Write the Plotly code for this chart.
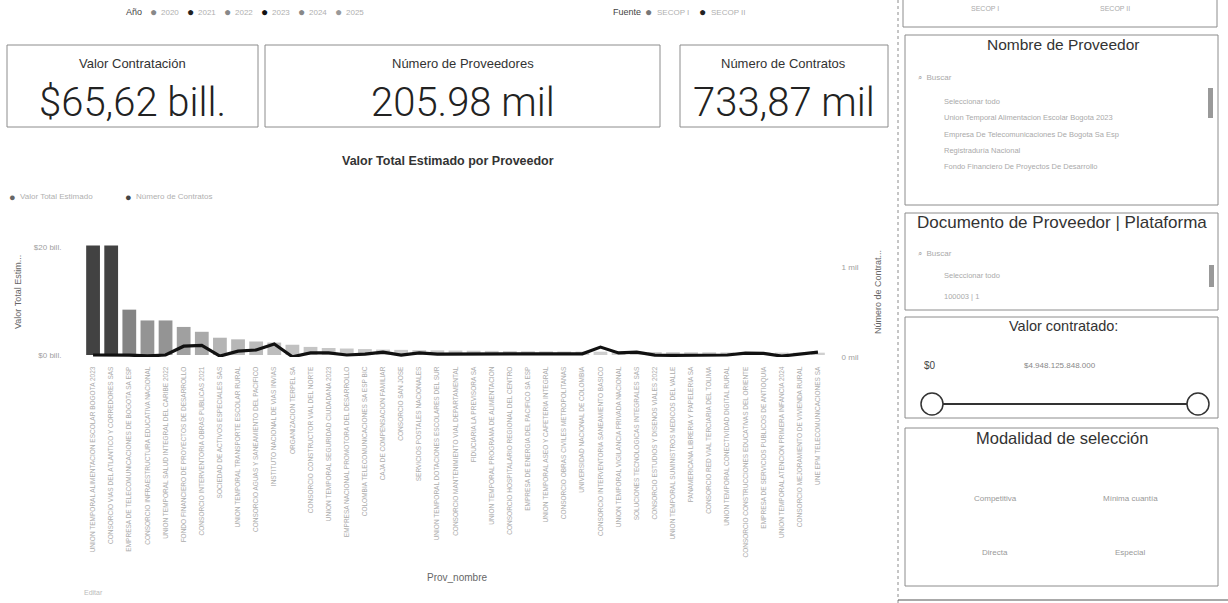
import plotly.graph_objects as go

W, H = 1228, 603

# ---------------- data ----------------
proveedores = [
    "UNION TEMPORAL ALIMENTACION ESCOLAR BOGOTA 2023",
    "CONSORCIO VIAS DEL ATLANTICO Y CORREDORES SAS",
    "EMPRESA DE TELECOMUNICACIONES DE BOGOTA SA ESP",
    "CONSORCIO INFRAESTRUCTURA EDUCATIVA NACIONAL",
    "UNION TEMPORAL SALUD INTEGRAL DEL CARIBE 2022",
    "FONDO FINANCIERO DE PROYECTOS DE DESARROLLO",
    "CONSORCIO INTERVENTORIA OBRAS PUBLICAS 2021",
    "SOCIEDAD DE ACTIVOS ESPECIALES SAS",
    "UNION TEMPORAL TRANSPORTE ESCOLAR RURAL",
    "CONSORCIO AGUAS Y SANEAMIENTO DEL PACIFICO",
    "INSTITUTO NACIONAL DE VIAS INVIAS",
    "ORGANIZACION TERPEL SA",
    "CONSORCIO CONSTRUCTOR VIAL DEL NORTE",
    "UNION TEMPORAL SEGURIDAD CIUDADANA 2023",
    "EMPRESA NACIONAL PROMOTORA DEL DESARROLLO",
    "COLOMBIA TELECOMUNICACIONES SA ESP BIC",
    "CAJA DE COMPENSACION FAMILIAR",
    "CONSORCIO SAN JOSE",
    "SERVICIOS POSTALES NACIONALES",
    "UNION TEMPORAL DOTACIONES ESCOLARES DEL SUR",
    "CONSORCIO MANTENIMIENTO VIAL DEPARTAMENTAL",
    "FIDUCIARIA LA PREVISORA SA",
    "UNION TEMPORAL PROGRAMA DE ALIMENTACION",
    "CONSORCIO HOSPITALARIO REGIONAL DEL CENTRO",
    "EMPRESA DE ENERGIA DEL PACIFICO SA ESP",
    "UNION TEMPORAL ASEO Y CAFETERIA INTEGRAL",
    "CONSORCIO OBRAS CIVILES METROPOLITANAS",
    "UNIVERSIDAD NACIONAL DE COLOMBIA",
    "CONSORCIO INTERVENTORIA SANEAMIENTO BASICO",
    "UNION TEMPORAL VIGILANCIA PRIVADA NACIONAL",
    "SOLUCIONES TECNOLOGICAS INTEGRALES SAS",
    "CONSORCIO ESTUDIOS Y DISENOS VIALES 2022",
    "UNION TEMPORAL SUMINISTROS MEDICOS DEL VALLE",
    "PANAMERICANA LIBRERIA Y PAPELERIA SA",
    "CONSORCIO RED VIAL TERCIARIA DEL TOLIMA",
    "UNION TEMPORAL CONECTIVIDAD DIGITAL RURAL",
    "CONSORCIO CONSTRUCCIONES EDUCATIVAS DEL ORIENTE",
    "EMPRESA DE SERVICIOS PUBLICOS DE ANTIOQUIA",
    "UNION TEMPORAL ATENCION PRIMERA INFANCIA 2024",
    "CONSORCIO MEJORAMIENTO DE VIVIENDA RURAL",
    "UNE EPM TELECOMUNICACIONES SA",
]

valor_total_bill = [
    20.3, 20.3, 8.4, 6.4, 6.4, 5.2, 4.3, 3.2, 2.9, 2.5, 2.3, 1.9, 1.5, 1.3,
    1.2, 1.1, 1.0, 0.95, 0.9, 0.86, 0.82, 0.79, 0.76, 0.73, 0.7, 0.68, 0.66,
    0.63, 0.61, 0.59, 0.57, 0.55, 0.53, 0.51, 0.5, 0.48, 0.47, 0.46, 0.45,
    0.44, 0.43,
]

numero_contratos = [
    22, 22, 20, 12, 22, 120, 130, 10, 65, 78, 145, 3, 45, 45, 22, 33, 55, 22,
    45, 33, 33, 33, 30, 30, 28, 30, 33, 35, 110, 45, 55, 20, 18, 20, 20, 22,
    42, 40, 10, 33, 55,
]

anios = ["2020", "2021", "2022", "2023", "2024", "2025"]
fuentes = ["SECOP I", "SECOP II"]
kpi_titulos = ["Valor Contratación", "Número de Proveedores", "Número de Contratos"]
kpi_valores = ["$65,62 bill.", "205.98 mil", "733,87 mil"]
modalidades = ["Competitiva", "Mínima cuantía", "Directa", "Especial"]

# ---------------- helpers (pixel -> paper) ----------------
def px(x):
    return x / W

def py(y):
    return 1 - y / H

SANS = "Liberation Sans, Arial, sans-serif"
LIGHT = "Roboto, Liberation Sans, Arial, sans-serif"
BORDER = "#8c8c8c"

fig = go.Figure()

fig.add_trace(go.Bar(
    x=proveedores, y=valor_total_bill, name="Valor Total Estimado",
    marker=dict(color=valor_total_bill,
                colorscale=[[0, "#d0d0d0"], [0.12, "#b8b8b8"], [0.35, "#8a8a8a"],
                            [1, "#424242"]],
                line=dict(width=0)),
    width=0.76, showlegend=False,
))
fig.add_trace(go.Scatter(
    x=proveedores, y=numero_contratos, name="Número de Contratos",
    mode="lines", line=dict(color="#111111", width=3.2), yaxis="y2",
    showlegend=False,
))

# plot area in pixels
x_left, x_right = 84, 827
y_top, y_bot = 240, 357

fig.update_layout(
    width=W, height=H,
    margin=dict(l=0, r=0, t=0, b=0),
    paper_bgcolor="white", plot_bgcolor="white",
    font=dict(family=SANS, color="#333"),
    xaxis=dict(domain=[px(x_left), px(x_right)], type="category",
               range=[-0.5, len(proveedores) - 0.5],
               tickangle=-90, tickfont=dict(size=6.5, color="#ababab", family=SANS),
               showgrid=False, showline=False, ticks="outside", ticklen=6,
               tickcolor="rgba(0,0,0,0)", automargin=False),
    yaxis=dict(domain=[py(y_bot), py(y_top)], range=[-0.37, 21.3],
               tickvals=[0, 20], ticktext=["$0 bill.", "$20 bill."],
               tickfont=dict(size=8, color="#a0a0a0"), showgrid=False,
               zeroline=False, showline=False, ticks="outside", ticklen=20,
               tickcolor="rgba(0,0,0,0)", automargin=False),
    yaxis2=dict(overlaying="y", side="right", range=[0, 1300],
                tickvals=[0, 1000], ticktext=["0 mil", "1 mil"],
                tickfont=dict(size=8, color="#a0a0a0"), showgrid=False,
                zeroline=False, showline=False, ticks="outside", ticklen=12,
                tickcolor="rgba(0,0,0,0)", automargin=False),
)

ann = []
shapes = []

def text(x, y, s, size=10, color="#333", family=SANS, xanchor="left", angle=0, weight=None):
    f = dict(size=size, color=color, family=family)
    if weight:
        f["weight"] = weight
    ann.append(dict(x=px(x), y=py(y), xref="paper", yref="paper", text=s,
                    showarrow=False, xanchor=xanchor, yanchor="middle",
                    font=f, textangle=angle))

def rect(x0, y0, x1, y1, color=BORDER, width=1, dash=None):
    shapes.append(dict(type="rect", xref="paper", yref="paper",
                       x0=px(x0), x1=px(x1), y0=py(y1), y1=py(y0),
                       line=dict(color=color, width=width, dash=dash)))

# ---- top legends (slicer-like) ----
text(124, 12, "Año", 9, "#444")
dot_cols = ["#888", "#222", "#888", "#111", "#888", "#999"]
xx = 148
for a, c in zip(anios, dot_cols):
    text(xx, 12, "●", 12, c)
    text(xx + 11, 12, a, 8, "#b0b0b0")
    xx += 37
text(611, 12, "Fuente", 9, "#444")
text(643, 12, "●", 12, "#777")
text(655, 12, fuentes[0], 8, "#b0b0b0")
text(697, 12, "●", 12, "#222")
text(709, 12, fuentes[1], 8, "#b0b0b0")

# ---- KPI cards ----
cards = [(7, 258), (265, 660), (680, 888)]
for (x0, x1), t, v in zip(cards, kpi_titulos, kpi_valores):
    rect(x0, 45, x1, 127)
    text((x0 + x1) / 2, 64, t, 13, "#333", SANS, "center")
    text((x0 + x1) / 2, 102, v, 40, "#222", LIGHT, "center", weight=300)

# ---- chart title, legend, axis titles ----
text(448, 161, "Valor Total Estimado por Proveedor", 12.5, "#333", SANS, "center", weight="bold")
text(7, 197, "●", 11, "#666")
text(18, 197, "Valor Total Estimado", 8, "#b0b0b0")
text(123, 197, "●", 11, "#444")
text(134, 197, "Número de Contratos", 8, "#b0b0b0")
text(18, 292, "Valor Total Estim...", 9, "#666", SANS, "center", angle=-90)
text(878, 292, "Número de Contrat...", 9, "#666", SANS, "center", angle=-90)
text(457, 577, "Prov_nombre", 10, "#666", SANS, "center")
text(82, 592, "Editar", 7, "#bbb")

# ---- right filter panel ----
shapes.append(dict(type="line", xref="paper", yref="paper", x0=px(898), x1=px(898),
                   y0=0, y1=1, line=dict(color=BORDER, width=1, dash="dot")))
shapes.append(dict(type="line", xref="paper", yref="paper", x0=px(898), x1=1,
                   y0=py(600), y1=py(600), line=dict(color="#555", width=1)))
# top partial box
rect(903, -2, 1217, 27)
text(985, 8, fuentes[0], 7, "#aaa", SANS, "center")
text(1115, 8, fuentes[1], 7, "#aaa", SANS, "center")

# Nombre de Proveedor
rect(905, 35, 1218, 205)
text(1063, 45, "Nombre de Proveedor", 15.5, "#333", SANS, "center")
text(916, 78, "⌕  Buscar", 8, "#aaa")
nombres_lista = ["Seleccionar todo", proveedores[0], proveedores[2],
                 "Registraduría Nacional", proveedores[5]]
for i, n in enumerate(nombres_lista):
    text(942, 101 + i * 16.5, n.title() if i else n, 7.5, "#aaa")
shapes.append(dict(type="rect", xref="paper", yref="paper", x0=px(1208), x1=px(1213),
                   y0=py(118), y1=py(88), fillcolor="#999", line=dict(width=0)))

# Documento de Proveedor | Plataforma
rect(905, 213, 1218, 310)
text(1062, 222, "Documento de Proveedor | Plataforma", 17, "#333", SANS, "center")
text(916, 253, "⌕  Buscar", 8, "#aaa")
text(942, 275, "Seleccionar todo", 7.5, "#aaa")
text(942, 296, "100003 | 1", 7.5, "#aaa")
shapes.append(dict(type="rect", xref="paper", yref="paper", x0=px(1209), x1=px(1214),
                   y0=py(287), y1=py(265), fillcolor="#999", line=dict(width=0)))

# Valor contratado slider
rect(905, 317, 1218, 418)
text(1063, 326, "Valor contratado:", 14.5, "#333", SANS, "center")
text(922, 365, "$0", 10, "#444")
text(1060, 365, "$4.948.125.848.000", 8, "#888", SANS, "center")
shapes.append(dict(type="line", xref="paper", yref="paper", x0=px(943), x1=px(1187),
                   y0=py(404), y1=py(404), line=dict(color="#333", width=2)))
for cx in (932, 1198):
    shapes.append(dict(type="circle", xref="paper", yref="paper",
                       x0=px(cx - 11), x1=px(cx + 11), y0=py(415), y1=py(393),
                       fillcolor="white", line=dict(color="#333", width=1.5)))

# Modalidad de selección
rect(905, 428, 1218, 586)
text(1062, 438, "Modalidad de selección", 16.5, "#333", SANS, "center")
for (mx, my), m in zip([(995, 498), (1130, 498), (995, 552), (1130, 552)], modalidades):
    text(mx, my, m, 8, "#999", SANS, "center")

fig.update_layout(annotations=ann, shapes=shapes)
fig.write_html(
    "out.html",
    config={"displayModeBar": False},
    post_script="document.body.style.margin='0';document.body.style.padding='0';"
                "document.body.style.overflow='hidden';",
)
